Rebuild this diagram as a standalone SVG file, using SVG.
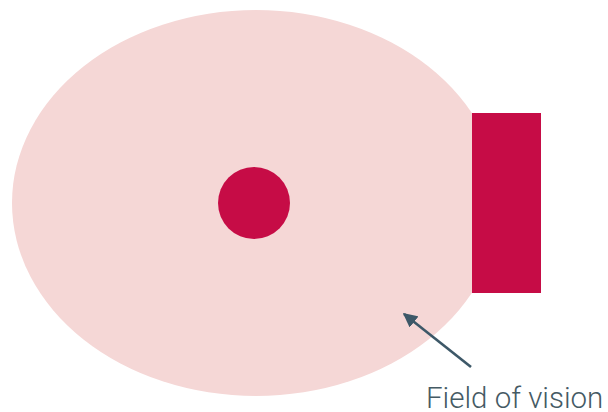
<svg xmlns="http://www.w3.org/2000/svg" width="608" height="412" viewBox="0 0 608 412">
<style>
.lbl{font-family:Roboto,"Liberation Sans",sans-serif;font-weight:300;font-size:29.5px;fill:#455a64}
</style>
<defs>
<marker id="ah" viewBox="0 0 10 10" refX="9" refY="5" markerWidth="5.5" markerHeight="5.5" orient="auto" markerUnits="strokeWidth">
<path d="M0,0 L10,5 L0,10 z" fill="#3d5868"/>
</marker>
</defs>
<rect width="608" height="412" fill="#ffffff"/>
<g id="field">
<ellipse cx="256" cy="203" rx="244" ry="193" fill="#f5d7d6"/>
</g>
<g id="eye">
<circle cx="254" cy="203" r="36" fill="#c60c46"/>
</g>
<g id="screen">
<rect x="472" y="113" width="69" height="180" fill="#c60c46"/>
</g>
<g id="connectors">
<line x1="471" y1="367" x2="404" y2="314" stroke="#3d5868" stroke-width="2.6" marker-end="url(#ah)"/>
</g>
<g id="label">
<text class="lbl" x="426" y="408">Field of vision</text>
</g>
</svg>
